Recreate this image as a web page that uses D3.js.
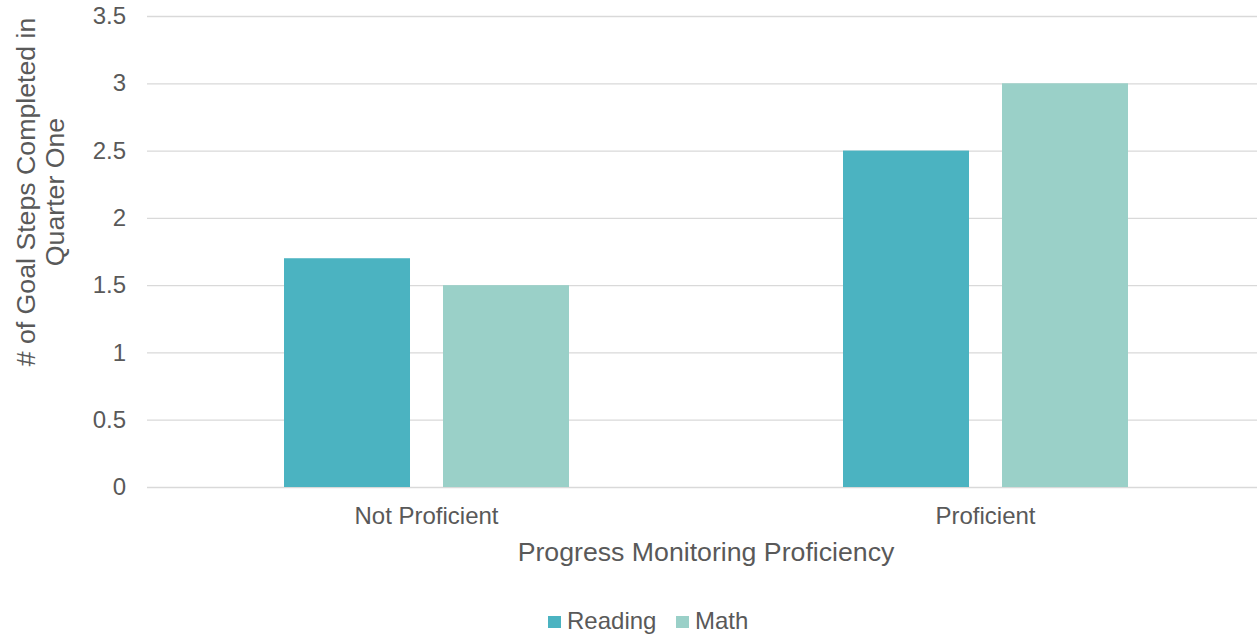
<!DOCTYPE html>
<html>
<head>
<meta charset="utf-8">
<script src="https://cdn.jsdelivr.net/npm/d3@7"></script>
<style>
  html, body { margin: 0; padding: 0; background: #fff; }
  svg { display: block; font-family: "Liberation Sans", Arial, sans-serif; }
</style>
</head>
<body>
<svg id="chart" width="1257" height="635"></svg>
<script>
// Average goal steps completed in the first quarter, by proficiency group
const categories = ["Not Proficient", "Proficient"];
const seriesNames = ["Reading", "Math"];
const reading = [1.7, 2.5];
const math = [1.5, 3.0];
const yTicks = [0, 0.5, 1, 1.5, 2, 2.5, 3, 3.5];

const colors = { Reading: "#4BB3C1", Math: "#9AD0C8" };
const textColor = "#595959";
const fontFamily = "'Liberation Sans', Arial, sans-serif";

const svg = d3.select("#chart");

const plot = { left: 147, right: 1265, top: 16, bottom: 487 };

const x = d3.scaleBand().domain(categories).range([plot.left, plot.right]).padding(0);
const groupWidth = 285;
const xInner = d3.scaleBand()
  .domain(seriesNames)
  .range([(x.bandwidth() - groupWidth) / 2, (x.bandwidth() + groupWidth) / 2])
  .paddingInner(0.2075)
  .paddingOuter(0);

const y = d3.scaleLinear().domain([0, 3.5]).range([plot.bottom, plot.top]);

// Horizontal gridlines
const grid = svg.append("g")
  .attr("transform", `translate(${plot.left},0)`)
  .call(d3.axisLeft(y).tickValues(yTicks).tickSize(-(plot.right - plot.left)).tickFormat(""));
grid.select(".domain").remove();
grid.selectAll(".tick line").attr("stroke", "#d9d9d9").attr("stroke-width", 1.3);

// Y tick labels
const yAxis = svg.append("g")
  .attr("transform", `translate(${plot.left},0)`)
  .call(d3.axisLeft(y).tickValues(yTicks).tickSize(0).tickPadding(21).tickFormat(d3.format("")));
yAxis.select(".domain").remove();
yAxis.attr("font-family", fontFamily).attr("font-size", 24);
yAxis.selectAll(".tick text").attr("fill", textColor);

// Bars
const rows = categories.map((c, i) => ({ category: c, values: [
  { series: "Reading", value: reading[i] },
  { series: "Math", value: math[i] }
] }));

const groups = svg.append("g").selectAll("g")
  .data(rows).join("g")
  .attr("transform", d => `translate(${x(d.category)},0)`);

groups.selectAll("rect")
  .data(d => d.values).join("rect")
  .attr("x", d => xInner(d.series))
  .attr("width", xInner.bandwidth())
  .attr("y", d => y(d.value))
  .attr("height", d => y(0) - y(d.value))
  .attr("fill", d => colors[d.series]);

// Category labels
const xAxis = svg.append("g")
  .attr("transform", `translate(0,${plot.bottom})`)
  .call(d3.axisBottom(x).tickSize(0).tickPadding(0));
xAxis.select(".domain").remove();
xAxis.attr("font-family", fontFamily).attr("font-size", 24);
xAxis.selectAll(".tick text")
  .attr("fill", textColor)
  .attr("y", 37)
  .attr("dy", null);

// Axis titles
svg.append("text")
  .attr("x", 706)
  .attr("y", 561)
  .attr("text-anchor", "middle")
  .attr("fill", textColor)
  .style("font-size", "26.7px")
  .text("Progress Monitoring Proficiency");

const yTitle = svg.append("text")
  .attr("transform", "translate(0,192) rotate(-90)")
  .attr("text-anchor", "middle")
  .attr("fill", textColor)
  .style("font-size", "26.7px");
yTitle.append("tspan").attr("x", 0).attr("y", 35).text("# of Goal Steps Completed in");
yTitle.append("tspan").attr("x", 0).attr("y", 64).text("Quarter One");

// Legend
const legend = svg.append("g");
const legendItems = [
  { name: "Reading", x: 548 },
  { name: "Math", x: 676 }
];
legendItems.forEach(item => {
  legend.append("rect")
    .attr("x", item.x).attr("y", 616)
    .attr("width", 13).attr("height", 12)
    .attr("fill", colors[item.name]);
  legend.append("text")
    .attr("x", item.x + 19).attr("y", 629)
    .attr("fill", textColor)
    .style("font-size", "24px")
    .text(item.name);
});
</script>
</body>
</html>
